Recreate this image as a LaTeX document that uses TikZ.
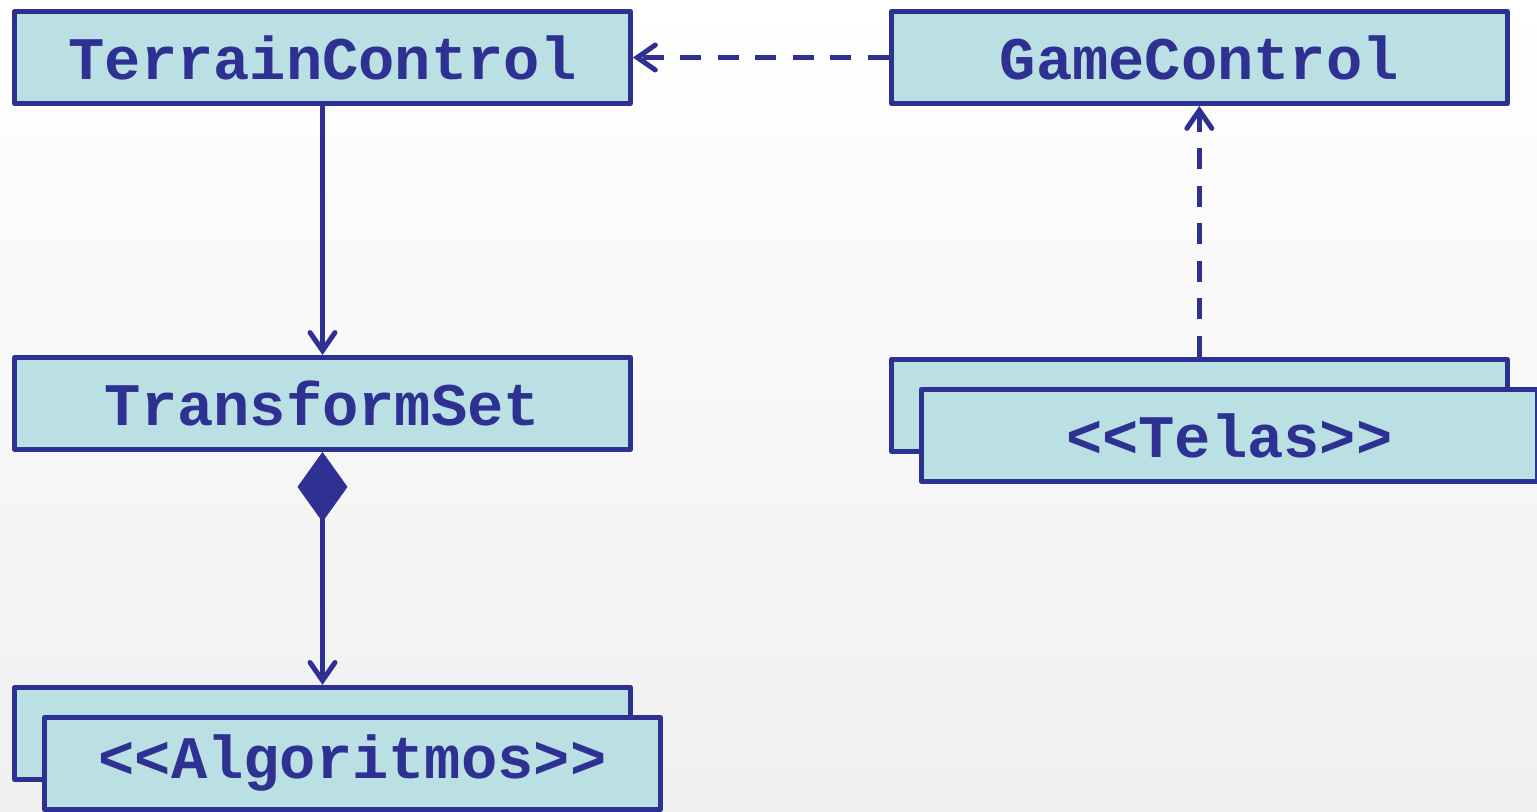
\documentclass[tikz,border=0pt]{standalone}
\usepackage{xcolor}
\usepackage{fontspec}
\setmonofont{Liberation Mono}
\usepackage{tikz}
\usetikzlibrary{positioning,arrows.meta,shapes}

\definecolor{umlblue}{HTML}{2E3192}
\definecolor{umlfill}{HTML}{BAE0E3}

\begin{document}
\begin{tikzpicture}
[x=0.02cm, y=-0.02cm,
    font=\ttfamily\bfseries\fontsize{34.4}{40}\selectfont,
    classbox/.style={rectangle, draw=umlblue, fill=umlfill, text=umlblue,
    line width=0.1cm, line join=round, inner sep=0pt,
    minimum width=12.32cm, minimum height=1.84cm},
    link/.style={draw=umlblue, line width=0.1cm},
    assoc/.style={link, -{Straight Barb[length=0.36cm, width=0.5cm, line cap=round]}},
    dep/.style={assoc, dash pattern=on 0.42cm off 0.33cm},
    comp/.style={link, {Diamond[length=1.4cm, width=1cm]}-{Straight Barb[length=0.36cm, width=0.5cm, line cap=round]}}
    ]

    \useasboundingbox (0,0) rectangle (1537,811);
    \clip (0,0) rectangle (1537,811);
    \shade[top color=white, bottom color=black!6] (0,0) rectangle (1537,811);

    % left column
    \node[classbox] (terrain) at (322.5,57.5) {TerrainControl};
    \node[classbox, below=4.98cm of terrain] (transform) {TransformSet};
    \node[classbox, below=4.66cm of transform] (algoback) {};
    \node[classbox] (algo) at ([shift={(30,30)}]algoback.center) {<<Algoritmos>>};

    % right column
    \node[classbox, right=5.12cm of terrain] (game) {GameControl};
    \node[classbox, below=5.02cm of game] (telasback) {};
    \node[classbox] (telas) at ([shift={(30,30)}]telasback.center) {<<Telas>>};

    \draw[assoc] (terrain) -- (transform);
    \draw[comp] (transform) -- (algoback);
    \draw[dep] (game) -- (terrain);
    \draw[dep] (telasback) -- (game);
\end{tikzpicture}
\end{document}
